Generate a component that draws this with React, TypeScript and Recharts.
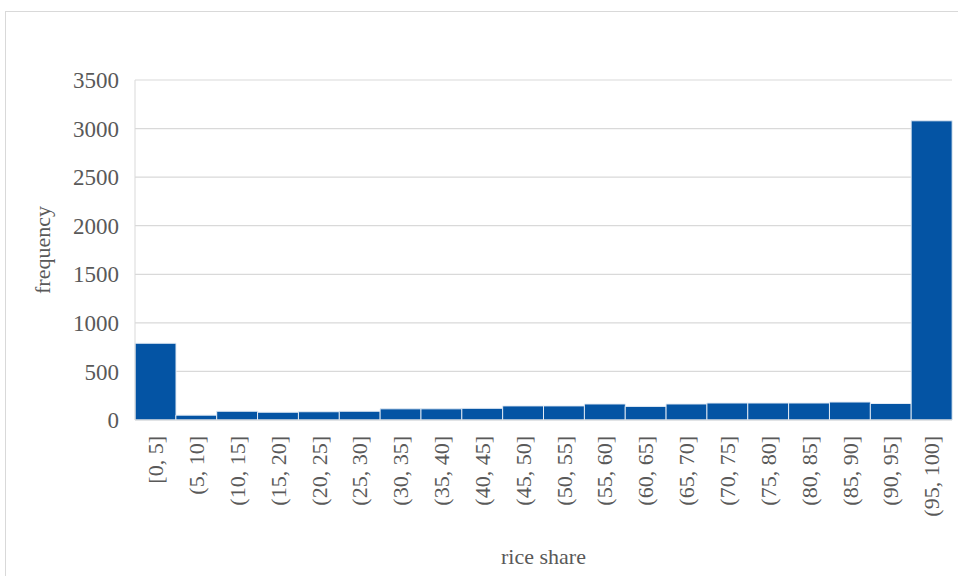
import { BarChart, Bar, XAxis, YAxis, CartesianGrid, Label } from 'recharts'

const bins = [
  '[0, 5]', '(5, 10]', '(10, 15]', '(15, 20]', '(20, 25]', '(25, 30]', '(30, 35]',
  '(35, 40]', '(40, 45]', '(45, 50]', '(50, 55]', '(55, 60]', '(60, 65]', '(65, 70]',
  '(70, 75]', '(75, 80]', '(80, 85]', '(85, 90]', '(90, 95]', '(95, 100]',
]
const frequency = [
  790, 50, 90, 80, 85, 90, 115, 115, 120, 145,
  145, 165, 140, 165, 175, 175, 175, 185, 170, 3080,
]
const yTicks = [0, 500, 1000, 1500, 2000, 2500, 3000, 3500]

const data = bins.map((bin, i) => ({ bin, frequency: frequency[i] }))

const FONT = '"Liberation Serif", "Times New Roman", serif'
const TEXT = '#595959'

// rotated category labels, reading bottom-to-top
function BinTick({ x, y, payload }: any) {
  return (
    <g transform={`translate(${x},${y + 8})`}>
      <text
        transform="rotate(-90)"
        textAnchor="end"
        dy="0.35em"
        fill={TEXT}
        fontSize={22}
        fontFamily={FONT}
      >
        {payload.value}
      </text>
    </g>
  )
}

export default function App() {
  return (
    <div style={{ position: 'absolute', left: 0, top: 0, width: 958, height: 576, overflow: 'hidden', background: '#fff' }}>
      {/* outer frame */}
      <div
        style={{
          position: 'absolute',
          left: 5,
          top: 11,
          width: 970,
          height: 580,
          border: '1px solid #d9d9d9',
        }}
      />
      <BarChart
        width={958}
        height={576}
        data={data}
        margin={{ top: 80, right: 6, bottom: 0, left: 0 }}
        barCategoryGap={0}
        style={{ position: 'absolute', left: 0, top: 0 }}
      >
        <CartesianGrid vertical={false} stroke="#d9d9d9" strokeWidth={1.2} />
        <XAxis
          dataKey="bin"
          interval={0}
          height={156}
          axisLine={{ stroke: '#d9d9d9' }}
          tickLine={false}
          tick={<BinTick />}
        >
          <Label
            value="rice share"
            position="insideBottom"
            offset={12}
            fill={TEXT}
            fontSize={22}
            fontFamily={FONT}
          />
        </XAxis>
        <YAxis
          width={135}
          domain={[0, 3500]}
          ticks={yTicks}
          interval={0}
          axisLine={{ stroke: '#d9d9d9' }}
          tickLine={false}
          tickMargin={10}
          tick={{ fill: TEXT, fontSize: 23, fontFamily: FONT }}
        >
          <Label
            content={({ viewBox }: any) => (
              <text
                x={viewBox.x + 42}
                y={viewBox.y + viewBox.height / 2}
                transform={`rotate(-90, ${viewBox.x + 42}, ${viewBox.y + viewBox.height / 2})`}
                textAnchor="middle"
                dy="0.35em"
                fill={TEXT}
                fontSize={22}
                fontFamily={FONT}
              >
                frequency
              </text>
            )}
          />
        </YAxis>
        <Bar
          dataKey="frequency"
          fill="#0454a4"
          stroke="#e4ecf5"
          strokeWidth={1}
          isAnimationActive={false}
        />
      </BarChart>
    </div>
  )
}
